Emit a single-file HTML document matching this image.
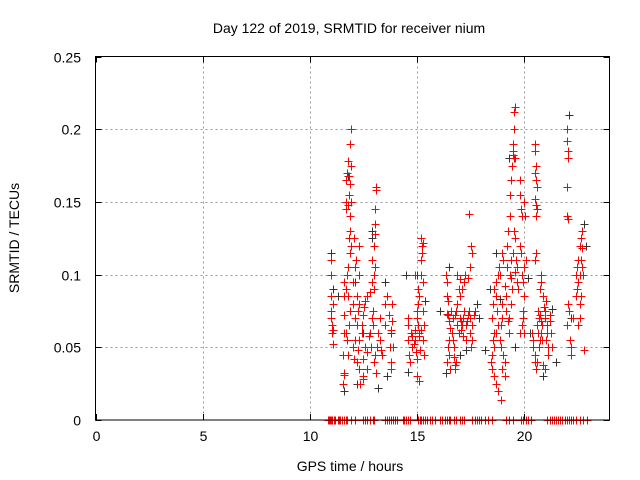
<!DOCTYPE html>
<html><head><meta charset="utf-8"><style>
body{margin:0;background:#fff}
svg{display:block;font-family:"Liberation Sans",sans-serif}
</style></head><body>
<svg id="chart" width="640" height="480" viewBox="0 0 640 480" xmlns="http://www.w3.org/2000/svg">
<rect width="640" height="480" fill="#fff"/>
<text x="349" y="33" font-size="14" text-anchor="middle">Day 122 of 2019, SRMTID for receiver nium</text>
<text transform="translate(19,238) rotate(-90)" font-size="14" text-anchor="middle">SRMTID / TECUs</text>
<text x="350" y="471" font-size="14" text-anchor="middle">GPS time / hours</text>
<g id="grid"></g>
<g id="ticks"></g>
<g id="black"></g>
<g id="red"></g>
<rect x="95.5" y="56.5" width="514" height="363.5" fill="none" stroke="#000" stroke-width="1"/>
</svg>
<script>
const xTicks=[0,5,10,15,20];
const yTicks=[0,0.05,0.1,0.15,0.2,0.25];
const yTickLabels=["0","0.05","0.1","0.15","0.2","0.25"];
const redPts=[[11.0,0.11],[11.0,0.1],[11.0,0.085],[11.0,0.075],[11.05,0.065],[11.05,0.06],[11.0,0.07],[11.1,0.08],[11.1,0.062],[11.1,0.052],
[11.6,0.095],[11.6,0.085],[11.6,0.072],[11.6,0.06],[11.55,0.045],[11.6,0.032],[11.6,0.031],[11.55,0.025],[11.7,0.15],[11.7,0.145],[11.7,0.165],[11.75,0.17],[11.8,0.178],[11.85,0.168],[11.9,0.162],[11.9,0.19],[11.95,0.2],[11.95,0.175],[11.85,0.155],[11.8,0.148],[11.9,0.14],[11.95,0.15],[11.9,0.13],[11.85,0.125],[11.9,0.115],[11.95,0.12],[11.8,0.105],[11.75,0.1],[11.7,0.09],[11.8,0.085],[11.9,0.075],[11.85,0.065],[11.75,0.055],[11.7,0.06],[11.8,0.045],[12.0,0.05],[12.1,0.055],[12.05,0.042],[12.0,0.08],[12.1,0.07],[12.05,0.125],[12.0,0.095],[12.1,0.105],[12.2,0.065],[12.25,0.048],[12.2,0.04],[12.3,0.035],[12.35,0.025],[12.3,0.055],[12.2,0.085],[12.3,0.08],[12.25,0.075],[12.3,0.1],[12.15,0.11],[12.3,0.12],[12.45,0.06],[12.5,0.042],[12.5,0.03],[12.5,0.028],[12.55,0.078],[12.6,0.082],[12.5,0.072],[12.45,0.065],[12.6,0.05],[12.7,0.047],[12.7,0.035],[12.75,0.058],[12.7,0.085],[12.8,0.088],[12.85,0.05],[12.8,0.06],[12.9,0.07],[12.9,0.095],[12.95,0.065],[12.95,0.075],[12.9,0.11],[13.0,0.12],[13.0,0.1],[13.05,0.105],[13.0,0.09],[13.05,0.128],[13.05,0.135],[13.1,0.16],[13.1,0.158],[13.05,0.145],[13.0,0.04],[13.05,0.045],[13.1,0.032],[13.15,0.05],[13.2,0.06],[13.3,0.055],[13.35,0.048],[13.3,0.07],[13.4,0.045],[13.5,0.08],[13.5,0.065],[13.6,0.085],[13.7,0.072],[13.75,0.05],[13.8,0.04],[13.8,0.035],[13.8,0.062],[13.85,0.068],[13.85,0.08],[13.9,0.05],
[14.6,0.07],[14.6,0.065],[14.6,0.055],[14.65,0.045],[14.7,0.04],[14.75,0.06],[14.8,0.058],[14.8,0.05],[14.85,0.052],[14.9,0.062],[14.9,0.055],[14.95,0.047],[15.0,0.042],[15.0,0.075],[15.05,0.09],[14.9,0.1],[15.0,0.07],[15.05,0.08],[15.1,0.085],[15.05,0.065],[15.1,0.058],[15.0,0.03],[15.1,0.027],[15.15,0.048],[15.2,0.062],[15.2,0.1],[15.2,0.11],[15.25,0.12],[15.3,0.122],[15.25,0.115],[15.3,0.095],[15.3,0.075],[15.35,0.065],[15.3,0.055],[15.35,0.045],[15.2,0.125],[15.1,0.06],
[16.35,0.1],[16.4,0.095],[16.4,0.085],[16.45,0.082],[16.4,0.073],[16.45,0.072],[16.5,0.068],[16.55,0.063],[16.5,0.055],[16.45,0.05],[16.5,0.045],[16.4,0.04],[16.55,0.035],[16.6,0.075],[16.65,0.06],[16.7,0.055],[16.75,0.05],[16.75,0.043],[16.8,0.038],[16.8,0.035],[16.85,0.04],[16.7,0.07],[16.8,0.072],[16.85,0.075],[16.9,0.065],[16.95,0.06],[16.9,0.08],[17.0,0.085],[16.95,0.09],[17.0,0.07],[17.05,0.068],[17.1,0.065],[17.05,0.062],[17.15,0.07],[17.2,0.075],[17.1,0.09],[17.2,0.095],[17.25,0.1],[17.0,0.097],[16.9,0.1],[17.15,0.058],[17.3,0.065],[17.35,0.068],[17.4,0.072],[17.45,0.075],[17.5,0.07],[17.5,0.06],[17.6,0.065],[17.6,0.055],[17.45,0.142],[17.55,0.12],[17.6,0.115],[17.5,0.105],[17.4,0.098],[17.3,0.055],[17.55,0.05],[17.65,0.072],[17.7,0.075],
[18.55,0.08],[18.5,0.07],[18.6,0.06],[18.55,0.055],[18.5,0.045],[18.45,0.04],[18.5,0.035],[18.6,0.03],[18.6,0.05],[18.7,0.06],[18.7,0.025],[18.8,0.02],[18.7,0.085],[18.75,0.075],[18.6,0.09],[18.7,0.095],[18.8,0.1],[18.85,0.105],[18.8,0.065],[18.9,0.055],[18.95,0.05],[18.95,0.065],[19.0,0.07],[19.0,0.08],[19.05,0.045],[19.1,0.04],[19.0,0.035],[19.1,0.03],[18.95,0.014],[19.0,0.115],[19.05,0.11],[18.9,0.1],[19.1,0.092],[19.15,0.085],[19.2,0.12],[19.25,0.13],[19.2,0.105],[19.15,0.075],[19.25,0.068],[19.3,0.06],[19.3,0.07],[19.35,0.1],[19.4,0.098],[19.4,0.11],[19.4,0.08],[19.45,0.09],[19.35,0.14],[19.35,0.155],[19.4,0.165],[19.45,0.175],[19.5,0.182],[19.55,0.18],[19.5,0.185],[19.55,0.2],[19.55,0.212],[19.6,0.215],[19.5,0.19],[19.6,0.18],[19.6,0.125],[19.55,0.13],[19.5,0.115],[19.6,0.102],[19.65,0.11],[19.7,0.105],[19.7,0.095],[19.75,0.09],[19.8,0.12],[19.85,0.115],[19.8,0.165],[19.8,0.155],[19.85,0.145],[19.9,0.14],[19.9,0.1],[19.95,0.095],[20.0,0.085],[19.8,0.06],[19.9,0.065],[19.95,0.07],[20.0,0.06],[20.05,0.14],[20.0,0.15],[20.1,0.11],[20.0,0.105],[19.95,0.075],
[20.5,0.19],[20.5,0.185],[20.55,0.175],[20.5,0.17],[20.55,0.165],[20.6,0.16],[20.5,0.152],[20.55,0.148],[20.6,0.145],[20.55,0.14],[20.5,0.11],[20.55,0.115],[20.4,0.06],[20.45,0.05],[20.5,0.045],[20.5,0.04],[20.55,0.035],[20.45,0.055],[20.6,0.065],[20.65,0.06],[20.7,0.07],[20.65,0.075],[20.75,0.072],[20.8,0.068],[20.85,0.065],[20.8,0.06],[20.75,0.055],[20.7,0.05],[20.6,0.04],[20.75,0.09],[20.8,0.095],[20.8,0.1],[20.9,0.085],[20.95,0.078],[21.0,0.075],[21.05,0.082],[21.0,0.07],[21.1,0.065],[21.1,0.06],[21.05,0.055],[21.15,0.05],[21.15,0.045],[21.2,0.072],[21.2,0.068],[20.9,0.038],[21.0,0.035],[20.85,0.055],[21.25,0.06],[21.3,0.05],
[22.0,0.2],[22.0,0.192],[22.05,0.18],[22.05,0.185],[22.0,0.16],[22.0,0.14],[22.05,0.138],[22.05,0.08],[22.1,0.075],[22.0,0.065],[22.15,0.055],[22.2,0.045],[22.2,0.05],[22.3,0.07],[22.45,0.1],[22.5,0.105],[22.55,0.11],[22.6,0.1],[22.55,0.095],[22.5,0.09],[22.45,0.085],[22.6,0.12],[22.65,0.125],[22.7,0.13],[22.7,0.118],[22.65,0.11],[22.55,0.065],[22.6,0.07],[22.6,0.08],[22.7,0.105],[22.75,0.1],[22.8,0.048],[22.65,0.085]];
const blackPts=[[11.0,0.115],[11.1,0.09],[11.6,0.02],[11.8,0.168],[12.2,0.025],[12.9,0.13],[12.9,0.125],[13.2,0.022],[13.6,0.03],[13.8,0.06],[14.5,0.1],[14.6,0.033],[15.4,0.082],[16.35,0.032],[16.5,0.105],[17.3,0.048],[17.8,0.08],[18.2,0.048],[18.4,0.09],[18.7,0.115],[19.3,0.18],[20.3,0.06],[20.9,0.03],[21.5,0.04],[22.1,0.21],[22.2,0.07],[22.8,0.135],[22.9,0.12],[12.5,0.06],[13.5,0.095],[15.0,0.1],[17.0,0.045],[17.9,0.07],[19.6,0.05],[20.2,0.098],[21.3,0.076],[11.3,0.085],[12.1,0.095],[16.1,0.075],[18.9,0.083]];
const zeroTimes=[10.85,10.9,10.95,11.0,11.05,11.15,11.2,11.3,11.35,11.4,11.5,11.6,11.7,11.75,11.95,12.1,12.5,12.6,12.7,12.8,12.95,13.0,13.5,13.6,13.7,13.8,13.9,14.0,14.1,14.35,14.4,14.5,14.6,14.7,15.05,15.15,15.2,15.3,15.4,15.5,15.6,15.7,15.85,16.1,16.2,16.3,16.4,16.5,16.55,16.75,16.85,17.0,17.1,17.2,17.6,17.7,17.8,17.9,18.0,18.2,18.35,18.5,19.15,19.3,19.5,19.85,19.95,20.1,20.2,20.35,21.1,21.2,21.3,21.4,21.5,21.6,21.7,21.8,21.9,22.0,22.1,22.2,22.3,22.45,22.6,22.75,22.95];
const NS="http://www.w3.org/2000/svg";
const X0=95.5,X1=609.5,Y0=420,Y1=56.5;
function xs(t){return X0+(t/24)*(X1-X0);}
function ys(v){return Y0-(v/0.25)*(Y0-Y1);}
function mk(tag,attrs,parent){const e=document.createElementNS(NS,tag);for(const k in attrs)e.setAttribute(k,attrs[k]);parent.appendChild(e);return e;}
const grid=document.getElementById('grid'),ticks=document.getElementById('ticks');
xTicks.forEach(t=>{
  const x=Math.round(xs(t))+0.5;
  if(t>0){const g=mk('line',{x1:x,x2:x,y1:Y1,y2:Y0,stroke:'#999','stroke-dasharray':'2,3'},grid);
  
  }
  mk('line',{x1:x,x2:x,y1:Y0,y2:Y0-6,stroke:'#000'},ticks);
  mk('line',{x1:x,x2:x,y1:Y1,y2:Y1+6,stroke:'#000'},ticks);
  const l=mk('text',{x:x,y:441,'font-size':14,'text-anchor':'middle'},ticks);
  l.textContent=String(t);
  
  
});
yTicks.forEach((v,i)=>{
  const y=Math.round(ys(v))+0.5;
  if(v>0&&v<0.25){const g=mk('line',{x1:X0,x2:X1,y1:y,y2:y,stroke:'#999','stroke-dasharray':'2,3'},grid);
  
  }
  mk('line',{x1:X0,x2:X0+6,y1:y,y2:y,stroke:'#000'},ticks);
  mk('line',{x1:X1,x2:X1-6,y1:y,y2:y,stroke:'#000'},ticks);
  const l=mk('text',{x:81,y:y+5,'font-size':14,'text-anchor':'end'},ticks);
  l.textContent=yTickLabels[i];
  
  
});
function plus(t,v,color,parent,name){
  const x=Math.round(xs(t))+0.5,y=Math.round(ys(v))+0.5;
  const p=mk('path',{d:`M${x-4} ${y}H${x+4}M${x} ${y-4}V${y+4}`,stroke:color,'stroke-width':1,fill:'none'},parent);
  
  
}
const bg=document.getElementById('black'),rg=document.getElementById('red');
blackPts.forEach(p=>plus(p[0],p[1],'#333',bg,'black-point'));
redPts.forEach(p=>plus(p[0],p[1],'#f00',rg,'red-point'));
zeroTimes.forEach(t=>plus(t,0,'#f00',rg,'zero-point'));
</script>
</body></html>
